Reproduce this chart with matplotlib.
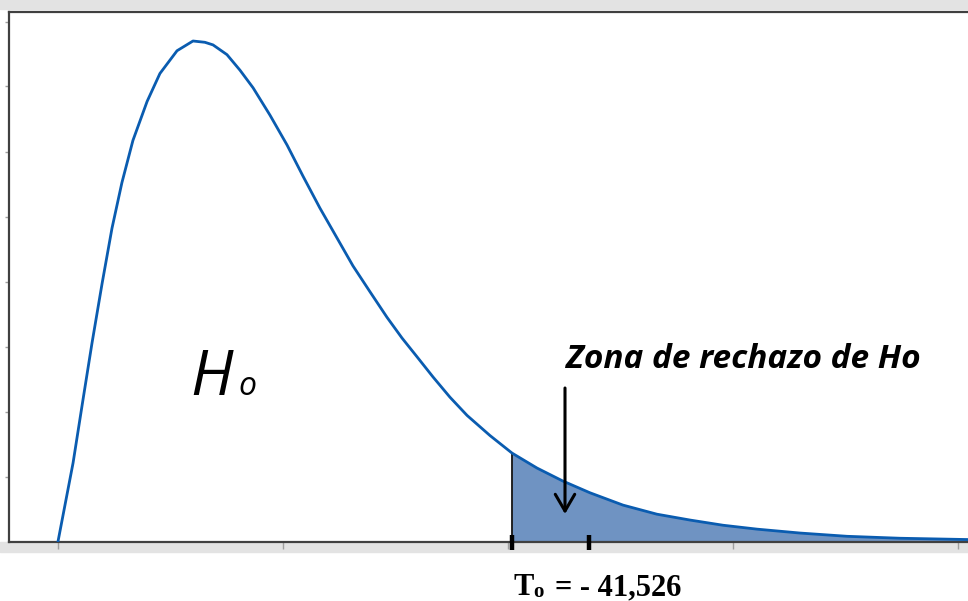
import numpy as np
import matplotlib.pyplot as plt
from matplotlib.patches import Rectangle

# curve points (x in tick units of 10, y density)
x_vals = [0.0, 0.31, 0.67, 1.11, 1.51, 1.96, 2.40, 2.84, 3.33, 3.96, 4.53,
          5.29, 6.00, 6.53, 6.89, 7.51, 8.09, 8.67, 9.42, 10.18, 10.89,
          11.64, 12.40, 13.11, 13.87, 14.62, 15.29, 15.96, 16.67, 17.42,
          18.18, 19.20, 20.18, 21.29, 22.44, 23.64, 25.11, 26.62, 28.09,
          29.56, 31.07, 32.98, 35.07, 37.42, 40.44]
y_vals = [0.0, 0.0056, 0.0121, 0.0218, 0.0305, 0.0397, 0.0482, 0.0552,
          0.0617, 0.0677, 0.0720, 0.0755, 0.0770, 0.0768, 0.0764, 0.0749,
          0.0725, 0.0698, 0.0656, 0.0610, 0.0562, 0.0513, 0.0467, 0.0424,
          0.0384, 0.0345, 0.0313, 0.0284, 0.0253, 0.0222, 0.0194, 0.0163,
          0.0136, 0.0113, 0.0093, 0.0075, 0.0056, 0.0042, 0.0033, 0.0025,
          0.0019, 0.0013, 0.0008, 0.0005, 0.0003]
x_ticks = [0, 10, 20, 30, 40]
y_ticks = [0.01, 0.02, 0.03, 0.04, 0.05, 0.06, 0.07, 0.08]
critical = 20.18
marker2 = 23.6
label_zone = "Zona de rechazo de Ho"
label_t = "= - 41,526"

W, H = 968, 601
fig = plt.figure(figsize=(W / 100, H / 100), dpi=100)

# gray bands above the frame and below the axis
fig.patches.append(Rectangle((0, 1 - 9 / H), 1, 9 / H, transform=fig.transFigure,
                             color='#e3e3e3', zorder=-5))
fig.patches.append(Rectangle((0, (H - 552) / H), 1, 10 / H, transform=fig.transFigure,
                             color='#e3e3e3', zorder=-5))

ax = fig.add_axes([9 / W, (H - 541.5) / H, 1 - 9 / W, (541.5 - 12) / H])
ax.set_xlim((9 - 58) / 22.5, (968 - 58) / 22.5)
ax.set_ylim(0, (541.5 - 12) / 6500)
ax.patch.set_alpha(0)

x = np.array(x_vals)
y = np.array(y_vals)
mask = x >= critical
ax.fill_between(x[mask], 0, y[mask], color='#6f93c2', lw=0, zorder=1)
ax.plot(x, y, color='#0a5cb0', lw=2.0, zorder=3)
ax.plot([critical, critical], [0, y[mask][0]], color='black', lw=1.2, zorder=2)

# thick marks on the axis
for xm in [critical, marker2]:
    ax.plot([xm, xm], [-0.0013, 0.001], color='black', lw=3.2,
            solid_capstyle='butt', clip_on=False, zorder=5)

ax.set_xticks(x_ticks)
ax.set_yticks(y_ticks)
ax.set_xticklabels([])
ax.set_yticklabels([])
ax.tick_params(axis='x', direction='out', length=5, width=1, color='#a0a0a0')
ax.tick_params(axis='y', direction='out', length=3, width=1, color='#a0a0a0')
for side in ['left', 'bottom', 'top']:
    ax.spines[side].set_color('#404040')
    ax.spines[side].set_linewidth(1.6)
ax.spines['right'].set_visible(False)

# arrow pointing into the rejection region
ax.annotate('', xy=((565 - 58) / 22.5, (541.5 - 514) / 6500),
            xytext=((565 - 58) / 22.5, (541.5 - 388) / 6500),
            arrowprops=dict(arrowstyle='->,head_width=0.35,head_length=0.6',
                            color='black', lw=2.2, mutation_scale=20,
                            shrinkA=0, shrinkB=0))

# texts in pixel positions
def px(xp, yp):
    return xp / W, 1 - yp / H

fig.text(*px(566, 368), label_zone, fontsize=24, fontweight='bold', fontstyle='italic',
         family='Open Sans', va='baseline', ha='left')
fig.text(*px(190, 395), "H", fontsize=45, fontstyle='italic', family='Open Sans',
         va='baseline', ha='left')
fig.text(*px(238, 395), "o", fontsize=23, fontstyle='italic', family='Open Sans',
         va='baseline', ha='left')
fig.text(*px(514, 595), "T", fontsize=22, fontweight='bold',
         family='Liberation Serif', va='baseline', ha='left')
fig.text(*px(533, 597), "o", fontsize=15, fontweight='bold',
         family='Liberation Serif', va='baseline', ha='left')
fig.text(*px(555, 595), label_t, fontsize=22, fontweight='bold',
         family='Liberation Serif', va='baseline', ha='left')

fig.savefig('out.png', dpi=100)
